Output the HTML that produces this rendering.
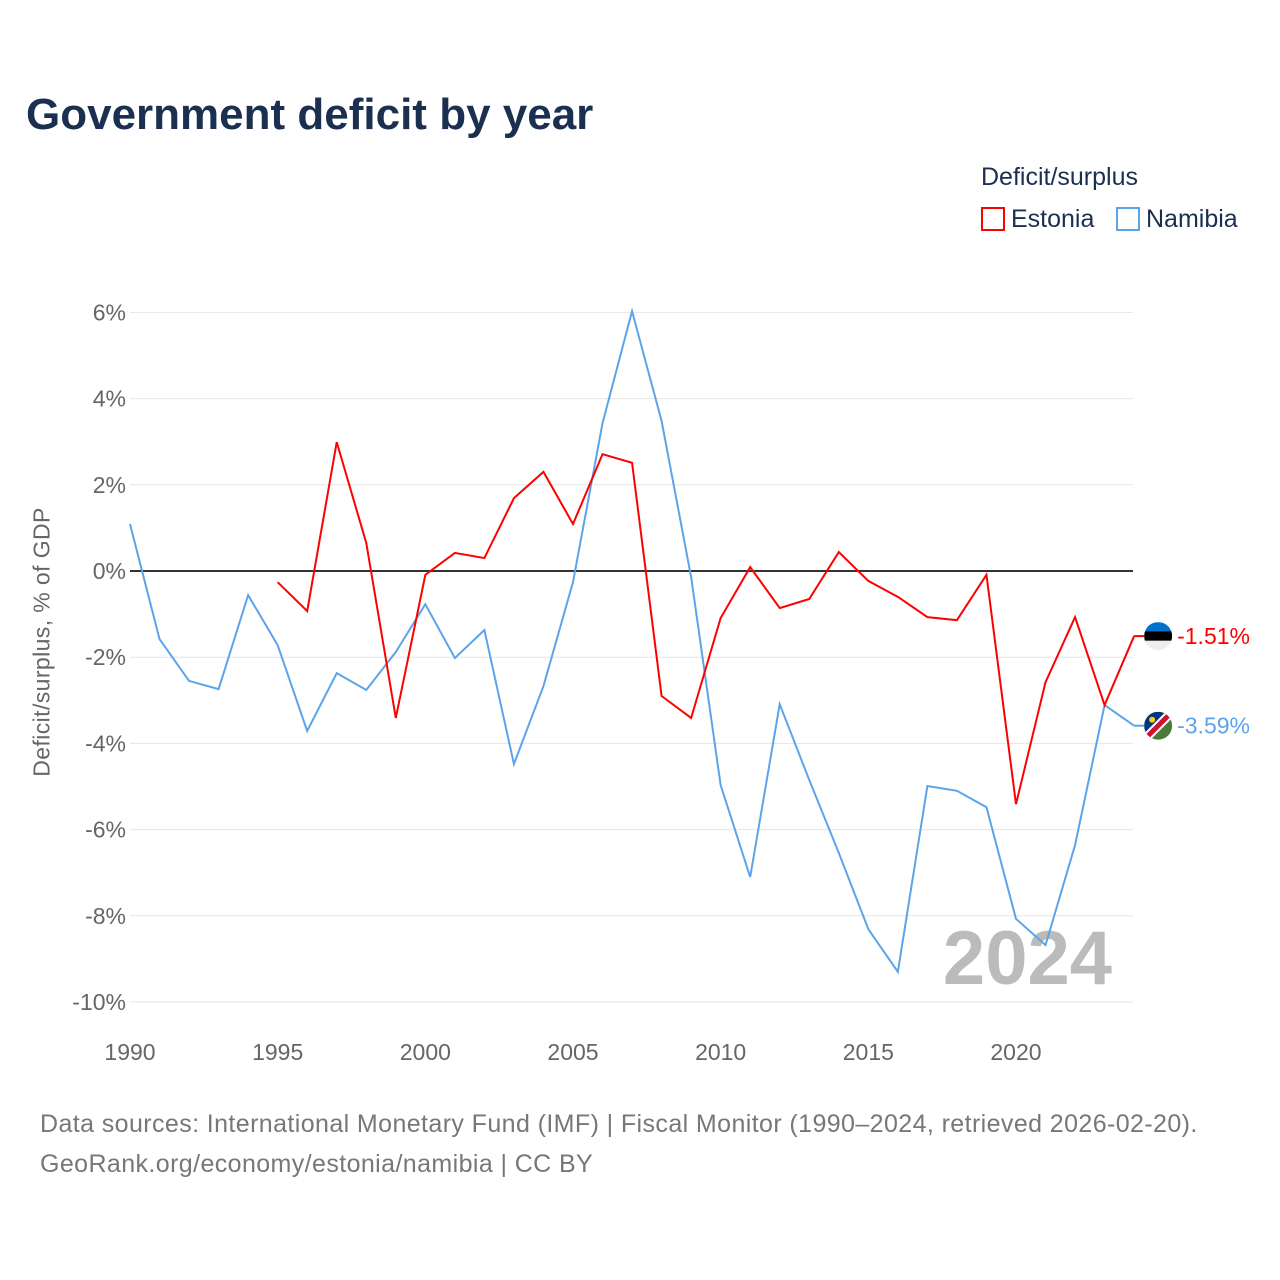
<!DOCTYPE html>
<html><head><meta charset="utf-8">
<style>
body{margin:0;background:#fff;font-family:"Liberation Sans",sans-serif;}
#wrap{position:relative;width:1280px;height:1280px;overflow:hidden;}
.t{position:absolute;white-space:nowrap;}
</style></head>
<body>
<div id="wrap">
<div class="t" style="left:26px;top:90px;font-size:44px;font-weight:bold;color:#1b3050;">Government deficit by year</div>
<div class="t" style="left:981px;top:163px;font-size:25px;color:#1b3050;">Deficit/surplus</div>
<div class="t" style="left:981px;top:205px;font-size:25px;color:#1b3050;"><span style="display:inline-block;width:24px;height:24px;border:2px solid #f00;box-sizing:border-box;vertical-align:-4px;margin-right:6px;"></span>Estonia</div>
<div class="t" style="left:1116px;top:205px;font-size:25px;color:#1b3050;"><span style="display:inline-block;width:24px;height:24px;border:2px solid #5ba4ea;box-sizing:border-box;vertical-align:-4px;margin-right:6px;"></span>Namibia</div>
<div class="t" style="left:42px;top:642px;font-size:23px;color:#666;letter-spacing:0.4px;transform:translate(-50%,-50%) rotate(-90deg);">Deficit/surplus, % of GDP</div>
<div class="t" style="left:40px;top:1104px;font-size:25px;color:#777;line-height:40px;letter-spacing:0.4px;">Data sources: International Monetary Fund (IMF) | Fiscal Monitor (1990–2024, retrieved 2026-02-20).<br>GeoRank.org/economy/estonia/namibia | CC BY</div>
<svg id="chart" width="1280" height="1280" style="position:absolute;left:0;top:0;"></svg>
</div>
<script>
const years=[];for(let y=1990;y<=2024;y++)years.push(y);
const namibia=[1.09,-1.58,-2.55,-2.74,-0.56,-1.72,-3.71,-2.37,-2.76,-1.88,-0.77,-2.02,-1.37,-4.48,-2.67,-0.26,3.43,6.03,3.48,-0.14,-4.97,-7.10,-3.09,-4.85,-6.54,-8.31,-9.30,-4.99,-5.10,-5.48,-8.07,-8.68,-6.36,-3.11,-3.59];
const estoniaStart=1995;
const estonia=[-0.26,-0.93,2.99,0.65,-3.41,-0.09,0.42,0.30,1.69,2.30,1.09,2.71,2.51,-2.90,-3.41,-1.09,0.09,-0.86,-0.65,0.44,-0.23,-0.60,-1.07,-1.14,-0.09,-5.41,-2.58,-1.07,-3.11,-1.51];
const yTicks=[6,4,2,0,-2,-4,-6,-8,-10];
const xTicks=[1990,1995,2000,2005,2010,2015,2020];
const X=y=>130+(y-1990)*29.533;
const Y=v=>571-v*43.1;
const svg=document.getElementById('chart');
const NS='http://www.w3.org/2000/svg';
function mk(tag,attrs){const e=document.createElementNS(NS,tag);for(const k in attrs)e.setAttribute(k,attrs[k]);svg.appendChild(e);return e;}
yTicks.forEach(v=>{
 const l=mk('line',{x1:130,x2:1133,y1:Y(v),y2:Y(v),stroke:v===0?'#333':'#e6e6e6','stroke-width':v===0?2:1});
 
 
 const t=mk('text',{x:126,y:Y(v)+8,'text-anchor':'end','font-size':23,fill:'#666','font-family':'Liberation Sans, sans-serif'});
 t.textContent=v+'%';
 
 
});
xTicks.forEach(y=>{
 const t=mk('text',{x:X(y),y:1060,'text-anchor':'middle','font-size':23,fill:'#666','font-family':'Liberation Sans, sans-serif'});
 t.textContent=y;
 
 
});
const yr=mk('text',{x:1112,y:984,'text-anchor':'end','font-size':76,'font-weight':'bold',fill:'#bbb','font-family':'Liberation Sans, sans-serif'});
yr.textContent='2024';


const pn=mk('polyline',{points:namibia.map((v,i)=>X(years[i])+','+Y(v)).join(' '),fill:'none',stroke:'#5ba4ea','stroke-width':2});


const pe=mk('polyline',{points:estonia.map((v,i)=>X(estoniaStart+i)+','+Y(v)).join(' '),fill:'none',stroke:'#f00','stroke-width':2});


const eL=estonia[estonia.length-1], nL=namibia[namibia.length-1];
const ex=X(2024)+24;
mk('line',{x1:X(2024),x2:ex-14,y1:Y(eL),y2:Y(eL),stroke:'#f00','stroke-width':2});
mk('line',{x1:X(2024),x2:ex-14,y1:Y(nL),y2:Y(nL),stroke:'#5ba4ea','stroke-width':2});
const ef=mk('g',{});


const cp=mk('clipPath',{id:'ce'});cp.appendChild(document.createElementNS(NS,'circle'));
cp.firstChild.setAttribute('cx',ex);cp.firstChild.setAttribute('cy',Y(eL));cp.firstChild.setAttribute('r',14);
[['#0072ce',-14],['#000',-4.7],['#eee',4.7]].forEach(([c,o])=>{const r=mk('rect',{x:ex-14,y:Y(eL)+o,width:28,height:9.4,fill:c,'clip-path':'url(#ce)'});ef.appendChild(r);});
const cn=mk('clipPath',{id:'cn'});cn.appendChild(document.createElementNS(NS,'circle'));
cn.firstChild.setAttribute('cx',ex);cn.firstChild.setAttribute('cy',Y(nL));cn.firstChild.setAttribute('r',14);
const ny=Y(nL);
const nf=mk('g',{'clip-path':'url(#cn)'});


[['#003580',`${ex-14},${ny-14} ${ex+14},${ny-14} ${ex-14},${ny+14}`],['#4a7a3a',`${ex+14},${ny-14} ${ex+14},${ny+14} ${ex-14},${ny+14}`]].forEach(([c,p])=>{const e=mk('polygon',{points:p,fill:c});nf.appendChild(e);});
const s1=mk('line',{x1:ex-14,y1:ny+14,x2:ex+14,y2:ny-14,stroke:'#fff','stroke-width':9});nf.appendChild(s1);
const s2=mk('line',{x1:ex-14,y1:ny+14,x2:ex+14,y2:ny-14,stroke:'#d21034','stroke-width':5});nf.appendChild(s2);
const sun=mk('circle',{cx:ex-6,cy:ny-6,r:3,fill:'#ffce00'});nf.appendChild(sun);
[[eL,'#f00','estonia-end-label'],[nL,'#5ba4ea','namibia-end-label']].forEach(([v,c,n])=>{
 const t=mk('text',{x:ex+19,y:Y(v)+8,'font-size':23,fill:c,'font-family':'Liberation Sans, sans-serif'});
 t.textContent=v.toFixed(2)+'%';
 
 
});
</script>
</body></html>
